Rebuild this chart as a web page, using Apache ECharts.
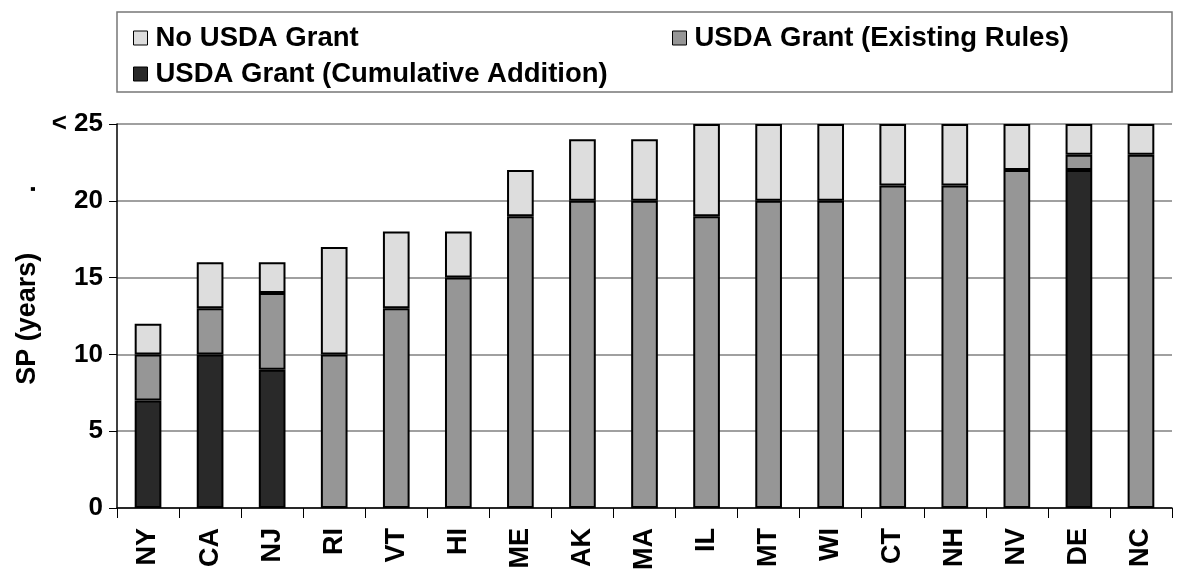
<!DOCTYPE html>
<html><head><meta charset="utf-8">
<script src="https://cdn.jsdelivr.net/npm/echarts@6/dist/echarts.min.js"></script>
<style>html,body{margin:0;padding:0;background:#fff}#c{width:1183px;height:575px}</style>
</head><body><div id="c"></div>
<script>
const categories = ['NY','CA','NJ','RI','VT','HI','ME','AK','MA','IL','MT','WI','CT','NH','NV','DE','NC'];
// segment sizes (years) for each stack layer
const cumulativeAddition = [7, 10, 9, null, null, null, null, null, null, null, null, null, null, null, null, 22, null];
const existingRules      = [3, 3, 5, 10, 13, 15, 19, 20, 20, 19, 20, 20, 21, 21, 22, 1, 23];
const noGrant            = [2, 3, 2, 7, 5, 3, 3, 4, 4, 6, 5, 5, 4, 4, 3, 2, 2];
const yTicks = [0, 5, 10, 15, 20, 25];
const yTickLabels = ['0', '5', '10', '15', '20', '< 25'];
const seriesNames = ['No USDA Grant', 'USDA Grant (Existing Rules)', 'USDA Grant (Cumulative Addition)'];

const FONT = '"Liberation Sans", Arial, sans-serif';
const chart = echarts.init(document.getElementById('c'));
const bw = '43%';
function barSeries(name, data, color) {
  return {
    name, type: 'bar', stack: 's', data, barWidth: bw,
    itemStyle: { color, borderColor: '#000', borderWidth: 2 },
    emphasis: { disabled: true }, animation: false
  };
}
const legendText = { fontFamily: FONT, fontWeight: 'bold', fontSize: 27.5, color: '#000', padding: [0, 0, 0, 3] };
const legendCommon = {
  orient: 'vertical', top: 19, itemGap: 8, icon: 'rect',
  itemWidth: 14, itemHeight: 14, textStyle: legendText, selectedMode: false,
  itemStyle: { borderColor: '#000', borderWidth: 1 }
};
chart.setOption({
  animation: false,
  graphic: [{
    type: 'rect', shape: { x: 117, y: 12, width: 1055, height: 80 },
    style: { fill: '#fff', stroke: '#777', lineWidth: 1.5 }, z: -1
  }],
  legend: [
    Object.assign({ data: [seriesNames[0], seriesNames[2]], left: 128 }, legendCommon),
    Object.assign({ data: [seriesNames[1]], left: 667 }, legendCommon)
  ],
  grid: { left: 117, right: 11, top: 124, bottom: 67 },
  xAxis: {
    type: 'category', data: categories, boundaryGap: true,
    axisLine: { lineStyle: { color: '#000', width: 1.5 } },
    axisTick: { show: true, interval: 0, length: 10, lineStyle: { color: '#000', width: 1 } },
    axisLabel: { interval: 0, rotate: 90, margin: 20, fontFamily: FONT, fontWeight: 'bold', fontSize: 27, color: '#000' }
  },
  yAxis: {
    type: 'value', min: yTicks[0], max: yTicks[yTicks.length - 1], interval: 5,
    name: 'SP (years)        .', nameLocation: 'middle', nameGap: 76, nameRotate: 90,
    nameTextStyle: { fontFamily: FONT, fontWeight: 'bold', fontSize: 27, color: '#000', padding: [0, 0, 0, 62] },
    axisLine: { show: true, lineStyle: { color: '#000', width: 1.5 } },
    axisTick: { show: true, length: 8, lineStyle: { color: '#000' } },
    axisLabel: {
      margin: 14, fontFamily: FONT, fontWeight: 'bold', fontSize: 26, color: '#000',
      formatter: v => yTickLabels[yTicks.indexOf(v)]
    },
    splitLine: { show: true, lineStyle: { color: '#808080', width: 1.5 } }
  },
  series: [
    barSeries(seriesNames[2], cumulativeAddition, '#292929'),
    barSeries(seriesNames[1], existingRules, '#969696'),
    barSeries(seriesNames[0], noGrant, '#dddddd')
  ]
});
</script></body></html>
